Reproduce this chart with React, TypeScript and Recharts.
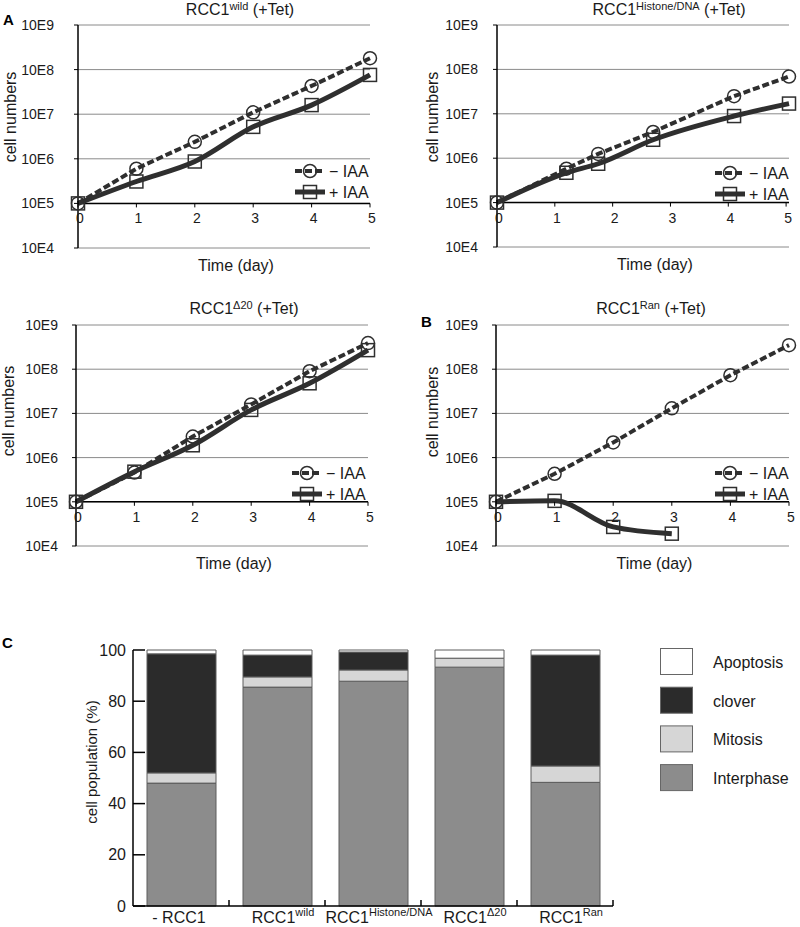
import React from "react";
import {
  LineChart,
  Line,
  XAxis,
  YAxis,
  CartesianGrid,
  ReferenceLine,
  Legend,
  Label,
  BarChart,
  Bar,
} from "recharts";

const FONT = '"Liberation Sans", Arial, Helvetica, sans-serif';
const INK = "#2f2f2f";
const TEXT = "#1a1a1a";

// growth curves (cells), one array per series
const WILD_DAYS = [0, 1, 2, 3, 4, 5];
const WILD_MINUS = [1e5, 6e5, 2.4e6, 1.1e7, 4.3e7, 1.8e8];
const WILD_PLUS = [1e5, 3.1e5, 8.7e5, 5.2e6, 1.6e7, 7.6e7];

const HIST_DAYS = [0, 1.2, 1.75, 2.7, 4.1, 5.05];
const HIST_MINUS = [1e5, 5.8e5, 1.25e6, 3.9e6, 2.5e7, 6.9e7];
const HIST_PLUS = [1e5, 4.7e5, 7.5e5, 2.6e6, 8.9e6, 1.7e7];

const D20_DAYS = [0, 1, 2, 3, 4, 5];
const D20_MINUS = [1e5, 4.6e5, 3e6, 1.6e7, 9e7, 3.9e8];
const D20_PLUS = [1e5, 4.8e5, 1.9e6, 1.2e7, 4.8e7, 2.7e8];

const RAN_DAYS = [0, 1, 2, 3, 4, 5];
const RAN_MINUS = [1e5, 4.3e5, 2.2e6, 1.3e7, 7.3e7, 3.5e8];
const RAN_PLUS = [1e5, 1.05e5, 2.7e4, 1.9e4, null, null];

const DECADES = [1e4, 1e5, 1e6, 1e7, 1e8, 1e9];
const DAY_TICKS = [0, 1, 2, 3, 4, 5];
const IAA_ORDER = ["minus", "plus"];

// cell population (%), panel C
const CATEGORY_KEYS = ["-RCC1", "wild", "Histone/DNA", "Δ20", "Ran"];
const CATEGORY_BASE = ["- RCC1", "RCC1", "RCC1", "RCC1", "RCC1"];
const CATEGORY_SUP = ["", "wild", "Histone/DNA", "Δ20", "Ran"];
const INTERPHASE = [48, 85.5, 87.8, 93.3, 48.3];
const MITOSIS = [4, 4, 4.4, 3.5, 6.4];
const CLOVER = [46.5, 8.5, 7, 0, 43.3];
const APOPTOSIS = [1.5, 2, 0.8, 3.2, 2];
const PCT_TICKS = [0, 20, 40, 60, 80, 100];
const PHASE_ORDER = ["Apoptosis", "clover", "Mitosis", "Interphase"];

const FILL_BY_NAME: Record<string, string> = {
  Interphase: "#8c8c8c",
  Mitosis: "#d6d6d6",
  clover: "#2b2b2b",
  Apoptosis: "#ffffff",
};

type Panel = {
  id: string;
  left: number;
  top: number;
  width: number;
  height: number;
  yAxisWidth: number;
  marginTop: number;
  marginRight: number;
  xAxisHeight: number;
  tickMargin: number;
  yLabelX: number;
  yLabelY: number;
  legendLeft: number;
  legendTop: number;
  days: number[];
  minus: (number | null)[];
  plus: (number | null)[];
};

const PANELS: Panel[] = [
  { id: "wild", left: 0, top: 0, width: 400, height: 280, yAxisWidth: 78, marginTop: 25, marginRight: 30, xAxisHeight: 32, tickMargin: 20, yLabelX: 10, yLabelY: 117, legendLeft: 290, legendTop: 160, days: WILD_DAYS, minus: WILD_MINUS, plus: WILD_PLUS },
  { id: "hist", left: 400, top: 0, width: 400, height: 280, yAxisWidth: 97, marginTop: 25, marginRight: 11, xAxisHeight: 33, tickMargin: 15, yLabelX: 32, yLabelY: 117, legendLeft: 310, legendTop: 162, days: HIST_DAYS, minus: HIST_MINUS, plus: HIST_PLUS },
  { id: "d20", left: 0, top: 290, width: 400, height: 290, yAxisWidth: 76, marginTop: 35, marginRight: 32, xAxisHeight: 34, tickMargin: 14, yLabelX: 8, yLabelY: 121, legendLeft: 287, legendTop: 172, days: D20_DAYS, minus: D20_MINUS, plus: D20_PLUS },
  { id: "ran", left: 400, top: 290, width: 400, height: 290, yAxisWidth: 96, marginTop: 35, marginRight: 11, xAxisHeight: 34, tickMargin: 14, yLabelX: 32, yLabelY: 122, legendLeft: 310, legendTop: 172, days: RAN_DAYS, minus: RAN_MINUS, plus: RAN_PLUS },
];

const TITLES = [
  { sup: "wild", x: 240, y: 15 },
  { sup: "Histone/DNA", x: 669, y: 15 },
  { sup: "Δ20", x: 244, y: 314 },
  { sup: "Ran", x: 651, y: 314 },
];

function CircleDot(props: any) {
  const { cx, cy, index } = props;
  if (cx == null || cy == null) return <g key={`c${index}`} />;
  return <circle key={`c${index}`} cx={cx} cy={cy} r={6.5} fill="none" stroke={INK} strokeWidth={1.5} />;
}

function SquareDot(props: any) {
  const { cx, cy, index } = props;
  if (cx == null || cy == null) return <g key={`s${index}`} />;
  return <rect key={`s${index}`} x={cx - 6.5} y={cy - 6.5} width={13} height={13} fill="none" stroke={INK} strokeWidth={1.5} />;
}

// x axis of the growth plots sits on the 10E5 line, one decade above the plot bottom
function DayTick(props: any) {
  const { x, y, payload, lift } = props;
  const axisY = y - lift;
  return (
    <g>
      <line x1={x} y1={axisY} x2={x} y2={axisY + 4} stroke="#000" strokeWidth={1} />
      <text x={x + 2} y={axisY + 15} textAnchor="middle" dominantBaseline="central" fontSize={14} fill={TEXT} fontFamily={FONT}>
        {payload.value}
      </text>
    </g>
  );
}

function IaaLegend(props: any) {
  const items = [...(props.payload ?? [])].sort(
    (a: any, b: any) => IAA_ORDER.indexOf(a.dataKey) - IAA_ORDER.indexOf(b.dataKey)
  );
  return (
    <svg width={90} height={44} style={{ overflow: "visible" }}>
      {items.map((it: any, i: number) => {
        const cy = 11 + i * 21;
        const dashed = it.dataKey === "minus";
        return (
          <g key={it.dataKey ?? i}>
            <line x1={5} y1={cy} x2={35} y2={cy} stroke={INK} strokeWidth={dashed ? 4 : 5} strokeDasharray={dashed ? "7 3" : undefined} />
            {dashed ? (
              <circle cx={20} cy={cy} r={6.5} fill="none" stroke={INK} strokeWidth={1.5} />
            ) : (
              <rect x={13.5} y={cy - 6.5} width={13} height={13} fill="none" stroke={INK} strokeWidth={1.5} />
            )}
            <text x={39} y={cy} dominantBaseline="central" fontSize={16} fill={TEXT} fontFamily={FONT}>
              {it.value}
            </text>
          </g>
        );
      })}
    </svg>
  );
}

function LinePanel({ p }: { p: Panel }) {
  const rows = p.days.map((d, i) => ({ day: d, minus: p.minus[i], plus: p.plus[i] }));
  const plotW = p.width - p.yAxisWidth - p.marginRight;
  const plotH = p.height - p.marginTop - p.xAxisHeight;
  const decade = plotH / 5;
  return (
    <div style={{ position: "absolute", left: p.left, top: p.top }}>
      <LineChart
        width={p.width}
        height={p.height}
        data={rows}
        margin={{ top: p.marginTop, right: p.marginRight, bottom: 0, left: 0 }}
      >
        <CartesianGrid vertical={false} stroke="#8a8a8a" strokeWidth={1} />
        <XAxis
          dataKey="day"
          type="number"
          domain={[0, "dataMax"]}
          ticks={DAY_TICKS}
          interval={0}
          height={p.xAxisHeight}
          axisLine={false}
          tickLine={false}
          tickSize={0}
          tickMargin={0}
          tick={<DayTick lift={decade} />}
        >
          <Label
            content={() => (
              <text
                x={p.yAxisWidth + plotW / 2 + 12}
                y={p.height - p.xAxisHeight + 17}
                textAnchor="middle"
                dominantBaseline="central"
                fontSize={16}
                fill={TEXT}
                fontFamily={FONT}
              >
                Time (day)
              </text>
            )}
          />
        </XAxis>
        <YAxis
          type="number"
          scale="log"
          domain={[1e4, 1e9]}
          ticks={DECADES}
          interval={0}
          width={p.yAxisWidth}
          axisLine={{ stroke: "#000", strokeWidth: 1.5 }}
          tickLine={{ stroke: "#000" }}
          tickSize={4}
          tickMargin={p.tickMargin}
          tick={{ fontSize: 14, fill: TEXT, fontFamily: FONT }}
          tickFormatter={(v: number) => `10E${Math.round(Math.log10(v))}`}
        >
          <Label
            content={() => (
              <text
                transform={`translate(${p.yLabelX},${p.yLabelY}) rotate(-90)`}
                textAnchor="middle"
                dominantBaseline="central"
                fontSize={16}
                fill={TEXT}
                fontFamily={FONT}
              >
                cell numbers
              </text>
            )}
          />
        </YAxis>
        <ReferenceLine y={1e5} stroke="#000" strokeWidth={1.5} />
        <Line
          dataKey="minus"
          name="− IAA"
          type="linear"
          stroke={INK}
          strokeWidth={4}
          strokeDasharray="7 3"
          dot={CircleDot}
          activeDot={false}
          isAnimationActive={false}
        />
        <Line
          dataKey="plus"
          name="+ IAA"
          type="monotone"
          stroke={INK}
          strokeWidth={5}
          dot={SquareDot}
          activeDot={false}
          connectNulls={false}
          isAnimationActive={false}
        />
        <Legend
          layout="vertical"
          align="center"
          verticalAlign="middle"
          content={<IaaLegend />}
          wrapperStyle={{ left: p.legendLeft, top: p.legendTop, width: 90, height: 44 }}
        />
      </LineChart>
    </div>
  );
}

function CategoryTick(props: any) {
  const { x, y, payload } = props;
  const i = CATEGORY_KEYS.indexOf(payload.value);
  const half = payload.offset || 48;
  const sup = CATEGORY_SUP[i];
  return (
    <g>
      <line x1={x + half} y1={y} x2={x + half} y2={y - 6} stroke="#000" strokeWidth={1.5} />
      <text x={x + (sup ? 6 : -2)} y={y + 17} textAnchor="middle" fontSize={16} fill={TEXT} fontFamily={FONT}>
        {CATEGORY_BASE[i]}
        {sup ? (
          <tspan fontSize={11} dy={-7}>
            {sup}
          </tspan>
        ) : null}
      </text>
    </g>
  );
}

function BarLegend(props: any) {
  const items = [...(props.payload ?? [])].sort(
    (a: any, b: any) => PHASE_ORDER.indexOf(a.value) - PHASE_ORDER.indexOf(b.value)
  );
  return (
    <svg width={140} height={150}>
      {items.map((it: any, i: number) => {
        const top = 0.5 + i * 38.7;
        return (
          <g key={it.value}>
            <rect x={5.5} y={top} width={32} height={26} fill={FILL_BY_NAME[it.value] ?? it.color} stroke="#666" strokeWidth={1} />
            <text x={58} y={top + 14} dominantBaseline="central" fontSize={16} fill={TEXT} fontFamily={FONT}>
              {it.value}
            </text>
          </g>
        );
      })}
    </svg>
  );
}

function PopulationChart() {
  const rows = CATEGORY_KEYS.map((k, i) => ({
    key: k,
    Interphase: INTERPHASE[i],
    Mitosis: MITOSIS[i],
    clover: CLOVER[i],
    Apoptosis: APOPTOSIS[i],
  }));
  return (
    <div style={{ position: "absolute", left: 0, top: 590 }}>
      <BarChart width={800} height={337} data={rows} margin={{ top: 60, right: 187, bottom: 0, left: 0 }} barSize={69}>
        <XAxis
          dataKey="key"
          height={21}
          interval={0}
          axisLine={{ stroke: "#000", strokeWidth: 1.5 }}
          tickLine={false}
          tickSize={0}
          tickMargin={0}
          tick={<CategoryTick />}
        />
        <YAxis
          type="number"
          domain={[0, 100]}
          ticks={PCT_TICKS}
          interval={0}
          width={133}
          axisLine={{ stroke: "#000", strokeWidth: 1.5 }}
          tickLine={{ stroke: "#000", strokeWidth: 1.5 }}
          tickSize={-12}
          tickMargin={19}
          tick={{ fontSize: 16, fill: TEXT, fontFamily: FONT }}
        >
          <Label
            content={() => (
              <text
                transform="translate(91,172) rotate(-90)"
                textAnchor="middle"
                dominantBaseline="central"
                fontSize={15}
                fill={TEXT}
                fontFamily={FONT}
              >
                cell population (%)
              </text>
            )}
          />
        </YAxis>
        <Bar dataKey="Interphase" stackId="pop" fill={FILL_BY_NAME.Interphase} stroke="#5c5c5c" strokeWidth={1} isAnimationActive={false} />
        <Bar dataKey="Mitosis" stackId="pop" fill={FILL_BY_NAME.Mitosis} stroke="#5c5c5c" strokeWidth={1} isAnimationActive={false} />
        <Bar dataKey="clover" stackId="pop" fill={FILL_BY_NAME.clover} stroke="#5c5c5c" strokeWidth={1} isAnimationActive={false} />
        <Bar dataKey="Apoptosis" stackId="pop" fill={FILL_BY_NAME.Apoptosis} stroke="#5c5c5c" strokeWidth={1} isAnimationActive={false} />
        <Legend
          layout="vertical"
          align="center"
          verticalAlign="middle"
          content={<BarLegend />}
          wrapperStyle={{ left: 655, top: 58, width: 140, height: 150 }}
        />
      </BarChart>
    </div>
  );
}

export default function App() {
  return (
    <div
      style={{
        position: "absolute",
        left: 0,
        top: 0,
        width: 800,
        height: 927,
        background: "#fff",
        fontFamily: FONT,
        overflow: "hidden",
      }}
    >
      <svg width={800} height={927} style={{ position: "absolute", left: 0, top: 0 }}>
        <g fontFamily={FONT} fontWeight="bold" fontSize={15} fill="#000">
          <text x={3} y={25}>A</text>
          <text x={421} y={327}>B</text>
          <text x={2} y={648}>C</text>
        </g>
        {TITLES.map((t) => (
          <text key={t.sup} x={t.x} y={t.y} textAnchor="middle" fontSize={16} fill={TEXT} fontFamily={FONT}>
            RCC1
            <tspan fontSize={11} dy={-5}>
              {t.sup}
            </tspan>
            <tspan dy={5}> (+Tet)</tspan>
          </text>
        ))}
      </svg>
      {PANELS.map((p) => (
        <LinePanel key={p.id} p={p} />
      ))}
      <PopulationChart />
    </div>
  );
}
